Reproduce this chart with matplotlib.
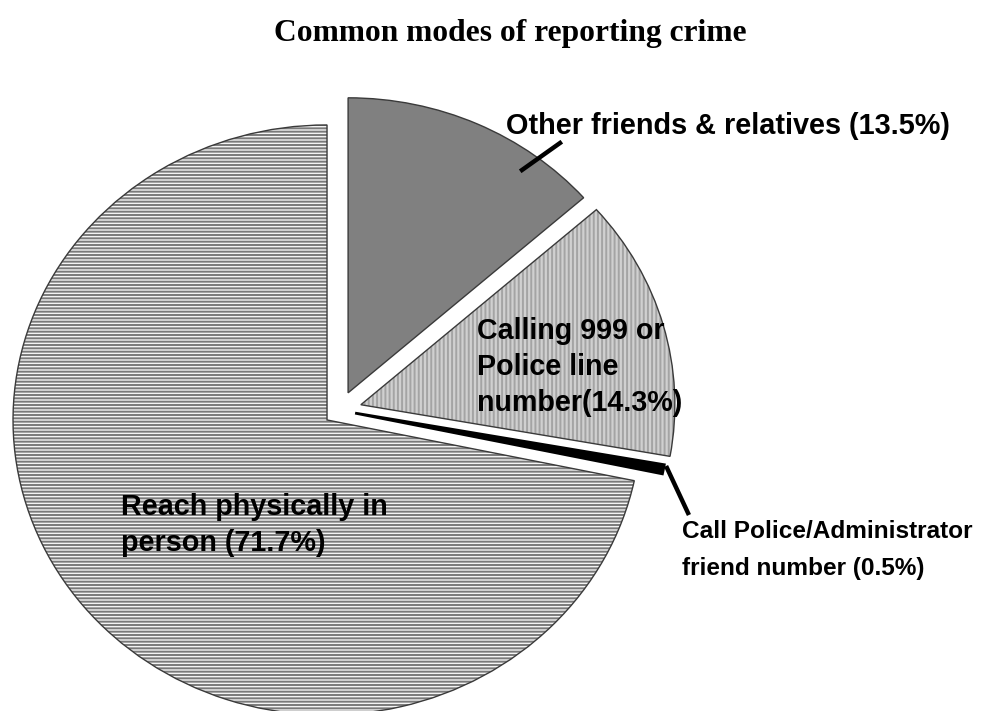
import matplotlib
matplotlib.use("Agg")
import matplotlib.pyplot as plt
from matplotlib.patches import Wedge
from matplotlib.lines import Line2D

# Survey shares of crime-reporting channels (percent)
modes = [
    "Other friends & relatives",
    "Calling 999 or\nPolice line\nnumber",
    "Call Police/Administrator\nfriend number",
    "Reach physically in\nperson",
]
shares = [13.5, 14.3, 0.5, 71.7]
label_fmt = ["{} ({:.1f}%)", "{}({:.1f}%)", "{} ({:.1f}%)", "{} ({:.1f}%)"]

W, H = 982, 711
fig = plt.figure(figsize=(W / 100, H / 100), dpi=100)
ax = fig.add_axes([0, 0, 1, 1])

plt.rcParams["hatch.linewidth"] = 1.4

face_colors = ["#808080", "#d0d0d0", "#000000", "#f4f4f4"]
hatch_colors = ["#808080", "#a4a4a4", "#000000", "#7a7a7a"]
outline_colors = ["#3a3a3a", "#3a3a3a", "#000000", "#3a3a3a"]
outline_widths = [1.0, 1.0, 2.0, 1.0]
hatches = [None, "||||", None, "-----"]
explode = [0.065, 0.07, 0.05, 0.052]

wedges, _ = ax.pie(
    shares,
    startangle=90,
    counterclock=False,
    explode=explode,
    radius=1.0,
    wedgeprops=dict(linewidth=0),
)

for w, fc, hc, h, oc, ow in zip(wedges, face_colors, hatch_colors, hatches,
                                outline_colors, outline_widths):
    w.set_facecolor(fc)
    w.set_edgecolor(hc)
    if h:
        w.set_hatch(h)
    # crisp outline drawn on top of the hatched fill
    ax.add_patch(Wedge(w.center, w.r, w.theta1, w.theta2, fill=False,
                       edgecolor=oc, linewidth=ow, zorder=3))

# pixel scale of the (slightly wide) pie
sx, sy = 314.0, 295.0
ox, oy = 339.7, 410.3
ax.set_xlim(-ox / sx, (W - ox) / sx)
ax.set_ylim(-(H - oy) / sy, oy / sy)
ax.set_aspect("auto")
ax.axis("off")


def fx(x):
    return x / W


def fy(y):
    return 1 - y / H


fig.text(fx(510), fy(34), "Common modes of reporting crime", ha="center", va="center",
         fontsize=22.7, fontweight="bold", family="Liberation Serif")

texts = [fmt.format(m, s) for fmt, m, s in zip(label_fmt, modes, shares)]
positions = [(506, 126), (477, 367), (682, 550), (121, 525)]
sizes = [20.8, 20.6, 17.6, 20.7]
spacings = [1.4, 1.38, 1.82, 1.4]
for t, (x, y), fs, ls in zip(texts, positions, sizes, spacings):
    fig.text(fx(x), fy(y), t, ha="left", va="center", fontsize=fs, linespacing=ls,
             fontweight="bold", family="Liberation Sans", color="black")

# leader lines
fig.add_artist(Line2D([fx(522), fx(560)], [fy(170), fy(143)], color="black", lw=3.2))
fig.add_artist(Line2D([fx(667), fx(688)], [fy(468), fy(513)], color="black", lw=3.2))

fig.savefig("out.png", dpi=100)
